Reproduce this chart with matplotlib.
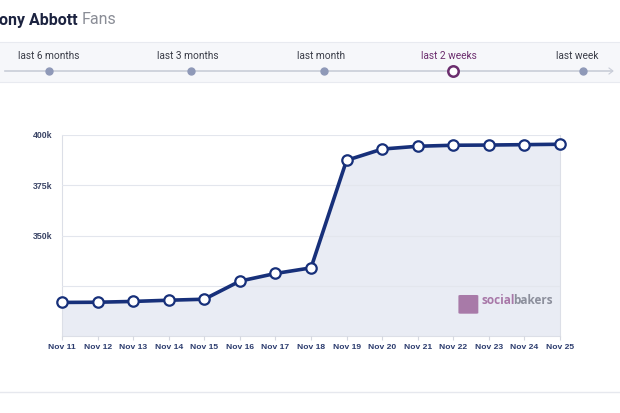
#!/usr/bin/env python3
import matplotlib
matplotlib.use('Agg')
import matplotlib.pyplot as plt
from matplotlib.lines import Line2D
from matplotlib.patches import Rectangle, FancyBboxPatch
from matplotlib.ticker import FuncFormatter

W, H = 620, 413

dates = ['Nov 11', 'Nov 12', 'Nov 13', 'Nov 14', 'Nov 15', 'Nov 16', 'Nov 17',
         'Nov 18', 'Nov 19', 'Nov 20', 'Nov 21', 'Nov 22', 'Nov 23', 'Nov 24',
         'Nov 25']
fans = [316700, 316800, 317200, 317800, 318300, 327300, 331100, 333900,
        387400, 393000, 394400, 394900, 395000, 395200, 395400]

ranges = ['last 6 months', 'last 3 months', 'last month', 'last 2 weeks', 'last week']
selected = 'last 2 weeks'

NAVY = '#17307a'
FILL = '#e9ecf4'


def fx(px):
    return px / W


def fy(py):
    return 1 - py / H


def run():
    fig = plt.figure(figsize=(W / 100, H / 100), dpi=100)
    fig.patch.set_facecolor('white')

    # title
    t = fig.text(fx(-1), fy(20), 'ony Abbott', fontsize=11.5, fontweight='bold',
                 color='#1c2340', family='Roboto', va='center', ha='left')
    fig.canvas.draw()
    bb = t.get_window_extent()
    fig.text(bb.x1 / W + fx(4), fy(20), 'Fans', fontsize=11.5, color='#8a8d96',
             family='Roboto', va='center', ha='left')

    # range selector band
    fig.patches.append(Rectangle((0, fy(82)), 1, (82 - 42) / H, transform=fig.transFigure,
                                 facecolor='#f6f7fa', edgecolor='none', zorder=0))
    for yy in (42, 82):
        fig.add_artist(Line2D([0, 1], [fy(yy), fy(yy)], color='#e8eaf0', lw=0.8))
    fig.add_artist(Line2D([fx(5), fx(612)], [fy(71), fy(71)], color='#c9cdd8', lw=1.2))
    fig.add_artist(Line2D([fx(609), fx(613), fx(609)], [fy(68), fy(71), fy(74)],
                          color='#c9cdd8', lw=0.8))
    label_x = [49, 188, 321, 449, 577]
    dot_x = [49, 191, 324, 453, 583]
    for name, lx, dx in zip(ranges, label_x, dot_x):
        if name == selected:
            fig.text(fx(lx), fy(56), name, fontsize=7.3, color='#6b2d6e',
                     family='Roboto', ha='center', va='center')
            fig.add_artist(Line2D([fx(dx)], [fy(71)], marker='o', ms=7.5,
                                  mfc='white', mec='#6b2d6e', mew=1.8))
        else:
            fig.text(fx(lx), fy(56), name, fontsize=7.3, color='#3a3d48',
                     family='Roboto', ha='center', va='center')
            fig.add_artist(Line2D([fx(dx)], [fy(71)], marker='o', ms=5,
                                  mfc='#8f99b8', mec='#8f99b8'))

    # bottom separator
    fig.add_artist(Line2D([0, 1], [fy(392), fy(392)], color='#e6e8ee', lw=1.0))

    # chart
    ax = fig.add_axes([fx(62), fy(336), fx(560 - 62), (336 - 135) / H])
    x = list(range(len(dates)))
    ax.fill_between(x, fans, 300000, color=FILL, zorder=1)
    ax.plot(x, fans, color=NAVY, lw=2.6, zorder=3, solid_joinstyle='round')
    ax.plot(x, fans, 'o', ms=7.5, mfc='white', mec=NAVY, mew=1.6, zorder=4, clip_on=False)

    ax.set_xlim(0, len(dates) - 1)
    ax.set_ylim(300000, 400000)
    ax.set_xticks(x)
    ax.set_xticklabels(dates)
    ax.set_yticks([325000, 350000, 375000, 400000])
    ax.yaxis.set_major_formatter(FuncFormatter(
        lambda v, p: '' if v == 325000 else '%dk' % (v / 1000)))
    ax.grid(axis='y', color='#e3e6ed', lw=0.8, zorder=2)
    ax.set_axisbelow(False)

    for lab in ax.get_xticklabels():
        lab.set_fontsize(6.1)
        lab.set_fontweight('bold')
        lab.set_color('#2c3c6e')
        lab.set_family('Liberation Sans')
    for lab in ax.get_yticklabels():
        lab.set_fontsize(6.3)
        lab.set_fontweight('bold')
        lab.set_color('#3b4566')
        lab.set_family('Liberation Sans')
    ax.tick_params(axis='x', length=3, color='#d5d8e0', pad=3)
    ax.tick_params(axis='y', length=0, pad=7)

    for s in ('left', 'right', 'bottom'):
        ax.spines[s].set_color('#dcdfe7')
        ax.spines[s].set_linewidth(0.8)
    ax.spines['top'].set_visible(False)

    # watermark
    ax.add_patch(FancyBboxPatch((0.80, 0.115), 0.032, 0.085, transform=ax.transAxes,
                                boxstyle='round,pad=0.004', facecolor='#a87aa8',
                                edgecolor='none', zorder=5))
    ws = ax.text(0.842, 0.175, 'social', transform=ax.transAxes, fontsize=8.5,
                 color='#a878a8', family='Open Sans', ha='left', fontweight='bold',
                 va='center', zorder=5)
    fig.canvas.draw()
    wb = ws.get_window_extent()
    ax.text((wb.x1 - 1.5) / W, fy(0) - (1 - (fy(336) + 0.175 * (336 - 135) / H)),
            'bakers', transform=fig.transFigure, fontsize=8.5, fontweight='bold',
            color='#8c8f9c', family='Open Sans', ha='left', va='center', zorder=5)

    fig.savefig('out.png', dpi=100, facecolor='white')


if __name__ == '__main__':
    run()
